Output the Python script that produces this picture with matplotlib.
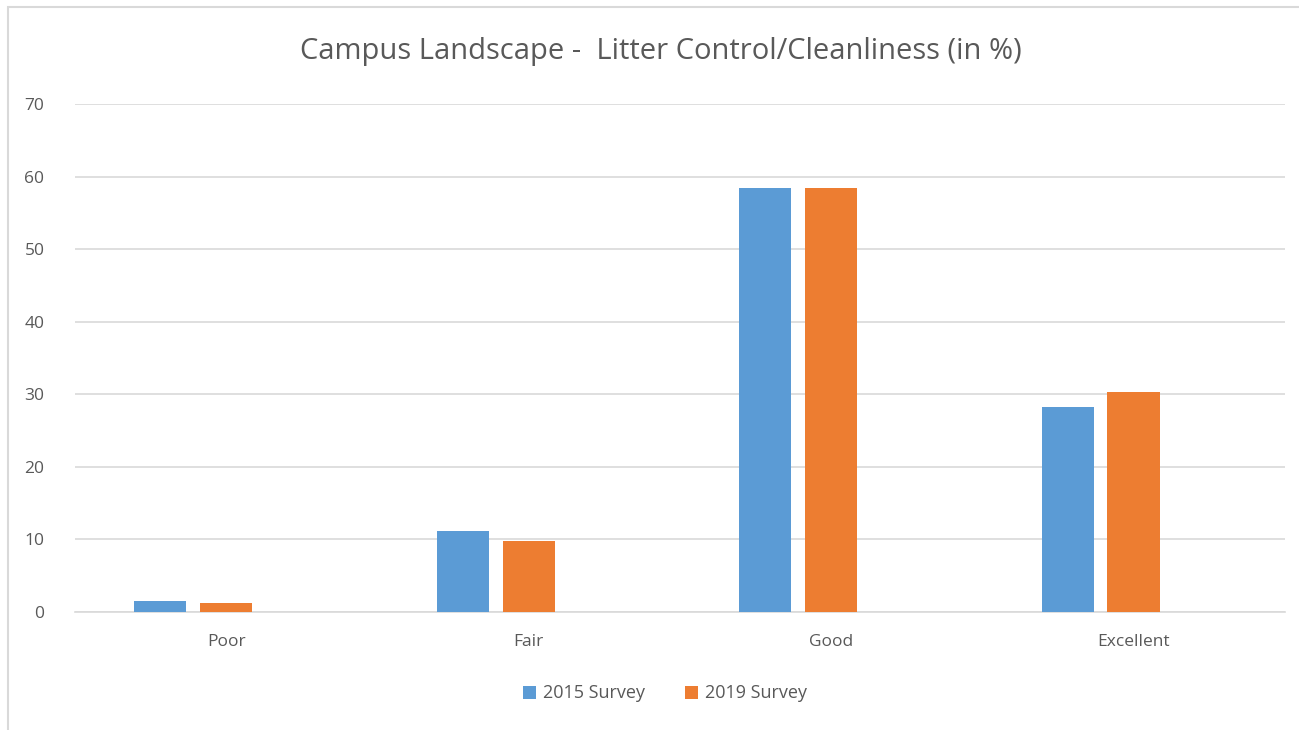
import numpy as np
import matplotlib.pyplot as plt
from matplotlib.patches import Rectangle

# Survey ratings for campus litter control / cleanliness
categories = ["Poor", "Fair", "Good", "Excellent"]
survey_2015 = [1.5, 11.2, 58.4, 28.3]
survey_2019 = [1.3, 9.8, 58.4, 30.3]
series_names = ["2015 Survey", "2019 Survey"]

blue = "#5b9bd5"
orange = "#ed7d31"
text_gray = "#595959"

plt.rcParams['font.family'] = ['Open Sans', 'DejaVu Sans']

fig = plt.figure(figsize=(12.99, 7.3), dpi=100)
ax = fig.add_axes([0.0577, 0.1616, 0.9313, 0.6959])

x = np.arange(len(categories))
slot = 0.218
width = 0.172
# Excel layout with an empty third series slot -> bars sit left of the label
ax.bar(x - slot, survey_2015, width, color=blue, label=series_names[0], zorder=3)
ax.bar(x, survey_2019, width, color=orange, label=series_names[1], zorder=3)

ax.set_xlim(-0.5, 3.5)
ax.set_ylim(0, 70)
ax.set_yticks(range(0, 71, 10))
ax.set_xticks(x)
ax.set_xticklabels(categories)
ax.tick_params(axis='both', length=0, colors=text_gray, labelsize=12.5)
ax.tick_params(axis='x', pad=16)
ax.tick_params(axis='y', pad=22)
ax.grid(axis='y', color='#d9d9d9', linewidth=1.2, zorder=0)
for side in ['top', 'right', 'left']:
    ax.spines[side].set_visible(False)
ax.spines['bottom'].set_color('#d9d9d9')
ax.spines['bottom'].set_linewidth(1.2)

fig.text(0.509, 0.93, "Campus Landscape -  Litter Control/Cleanliness (in %)",
         ha='center', va='center', fontsize=21, color=text_gray)

fig.legend(loc='center', bbox_to_anchor=(0.512, 0.05), ncol=2, frameon=False,
           fontsize=13, labelcolor=text_gray, handlelength=0.7, handleheight=0.7,
           columnspacing=2.2, handletextpad=0.4)

# light chart border
fig.patches.append(Rectangle((0.006, -0.01), 1.0, 1.0, transform=fig.transFigure,
                             fill=False, edgecolor='#d9d9d9', linewidth=1.5))

fig.savefig("out.png", dpi=100)
